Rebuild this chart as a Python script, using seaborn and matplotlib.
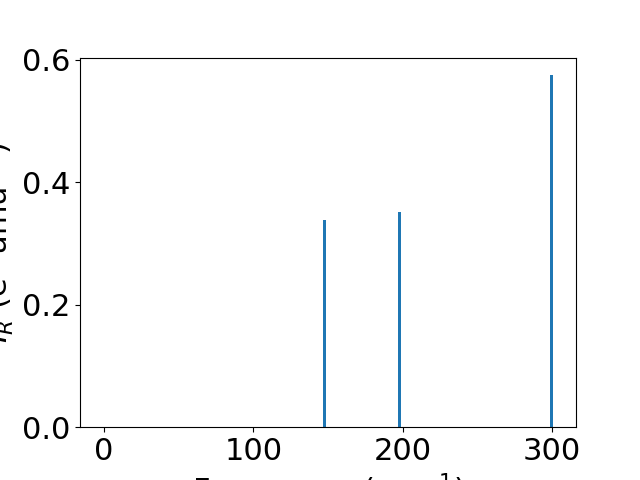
import matplotlib
matplotlib.use("Agg")
import matplotlib.pyplot as plt
import seaborn as sns
import pandas as pd

freqs = [0.0, 0.0, 0.0, 147.5, 198.0, 300.0]
intensities = [0.0, 0.0, 0.0, 0.339, 0.352, 0.575]

plt.rcParams.update({"font.size": 22})
df = pd.DataFrame({"freq": freqs, "intensity": intensities})

fig, ax = plt.subplots(figsize=(6.4, 4.8), dpi=100)
sns.barplot(data=df, x="freq", y="intensity", native_scale=True, width=0.04,
            color="#1f77b4", saturation=1, linewidth=0, errorbar=None, ax=ax)
ax.set_xlim(-16.1, 316.1)
ax.set_xticks([0, 100, 200, 300])
ax.set_yticks([0.0, 0.2, 0.4, 0.6])
ax.set_xlabel("Frequency (cm$^{-1}$)")
ax.set_ylabel("$I_R$ (e$^2$ amu$^{-1}$)")
fig.savefig("out.png", dpi=100)
